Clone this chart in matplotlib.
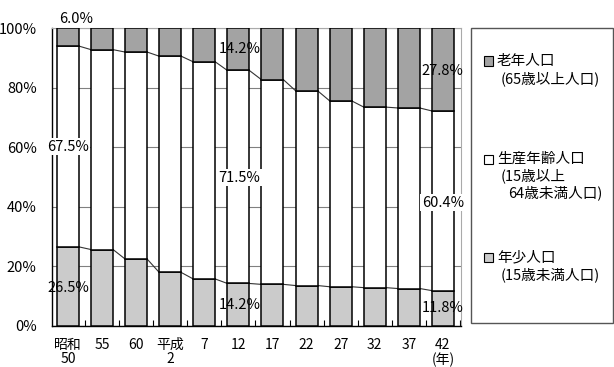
import matplotlib
matplotlib.use("Agg")
import matplotlib.pyplot as plt
from matplotlib.patches import Rectangle
import numpy as np

plt.rcParams['font.family'] = ['Noto Sans CJK JP', 'DejaVu Sans']

# 年次（昭和50年〜平成42年）
years = ["昭和\n50", "55", "60", "平成\n2", "7", "12", "17", "22", "27", "32", "37", "42\n(年)"]
# 年齢3区分別人口構成比（%）
young = [26.5, 25.6, 22.4, 17.9, 15.7, 14.2, 13.9, 13.5, 13.1, 12.8, 12.5, 11.8]
elderly = [6.0, 7.2, 8.0, 9.4, 11.3, 14.2, 17.3, 21.0, 24.4, 26.5, 26.8, 27.8]
working = [round(100 - y - e, 1) for y, e in zip(young, elderly)]

# (bar index, value, series) of the annotated values
annotations = [(0, "6.0%", "elderly"), (0, "67.5%", "working"), (0, "26.5%", "young"),
               (5, "14.2%", "elderly"), (5, "71.5%", "working"), (5, "14.2%", "young"),
               (11, "27.8%", "elderly"), (11, "60.4%", "working"), (11, "11.8%", "young")]

c_young = "#cbcbcb"
c_work = "#ffffff"
c_old = "#a3a3a3"

fig = plt.figure(figsize=(6.14, 3.67), dpi=100)
ax = fig.add_axes([0.0847, 0.1125, 0.666, 0.8105])

x = np.arange(len(years))
w = 0.645
young_a = np.array(young)
work_a = np.array(working)
old_a = np.array(elderly)

ax.bar(x, young_a, w, color=c_young, edgecolor="black", linewidth=1.1, zorder=3)
ax.bar(x, work_a, w, bottom=young_a, color=c_work, edgecolor="black", linewidth=1.1, zorder=3)
ax.bar(x, old_a, w, bottom=young_a + work_a, color=c_old, edgecolor="black", linewidth=1.1, zorder=3)

# series lines between bars
b1 = young_a
b2 = young_a + work_a
for i in range(len(x) - 1):
    ax.plot([x[i] + w / 2, x[i + 1] - w / 2], [b1[i], b1[i + 1]], color="#333333", lw=0.8, zorder=2)
    ax.plot([x[i] + w / 2, x[i + 1] - w / 2], [b2[i], b2[i + 1]], color="#333333", lw=0.8, zorder=2)

ax.set_xlim(-0.47, 11.53)
ax.set_ylim(0, 100)
ax.set_yticks([0, 20, 40, 60, 80, 100])
ax.set_yticklabels([f"{v}%" for v in [0, 20, 40, 60, 80, 100]], fontsize=10.5)
ax.tick_params(axis="y", length=0, pad=11)
ax.set_xticks(x)
ax.set_xticklabels(years, fontsize=10, linespacing=1.0)
ax.tick_params(axis="x", which="major", length=0, pad=9)
ax.set_xticks(np.arange(len(years)) + 0.5, minor=True)
ax.tick_params(axis="x", which="minor", direction="in", length=4, width=0.8)
ax.yaxis.grid(True, color="#808080", lw=0.8, zorder=0)
ax.set_axisbelow(True)
ax.spines["left"].set_linewidth(1.0)
ax.spines["bottom"].set_linewidth(1.0)
ax.spines["right"].set_color("#aaaaaa")
ax.spines["top"].set_color("#aaaaaa")

label_pos = {
    (0, "elderly"): (0.23, 103.1), (0, "working"): (0, 60.1), (0, "young"): (0, 12.7),
    (5, "elderly"): (5.03, 93.0), (5, "working"): (5.03, 49.7), (5, "young"): (5.03, 7.0),
    (11, "elderly"): (11, 85.6), (11, "working"): (11, 41.3), (11, "young"): (11, 6.0),
}
for i, txt, s in annotations:
    px, py = label_pos[(i, s)]
    bbox = dict(facecolor="white", edgecolor="none", pad=1) if s == "working" else None
    ax.text(px, py, txt, ha="center", va="center", fontsize=10.5, zorder=5, bbox=bbox, clip_on=False)

# legend box
fig.patches.append(Rectangle((471 / 614, 1 - 323 / 367), 142 / 614, 295 / 367,
                             transform=fig.transFigure, facecolor="white",
                             edgecolor="#555555", lw=1.0))
entries = [
    (61, c_old, [("老年人口", 497, 61), ("(65歳以上人口)", 501, 79)]),
    (159, c_work, [("生産年齢人口", 497, 159), ("(15歳以上", 501, 176), ("64歳未満人口)", 508, 193)]),
    (257, c_young, [("年少人口", 497, 257), ("(15歳未満人口)", 501, 275)]),
]
for my, col, lines in entries:
    fig.patches.append(Rectangle((484 / 614, 1 - (my + 4.5) / 367), 9 / 614, 9 / 367,
                                 transform=fig.transFigure, facecolor=col,
                                 edgecolor="black", lw=0.8))
    for t, tx, ty in lines:
        fig.text(tx / 614, 1 - ty / 367, t, ha="left", va="center", fontsize=10.5)

fig.savefig("out.png", dpi=100)
